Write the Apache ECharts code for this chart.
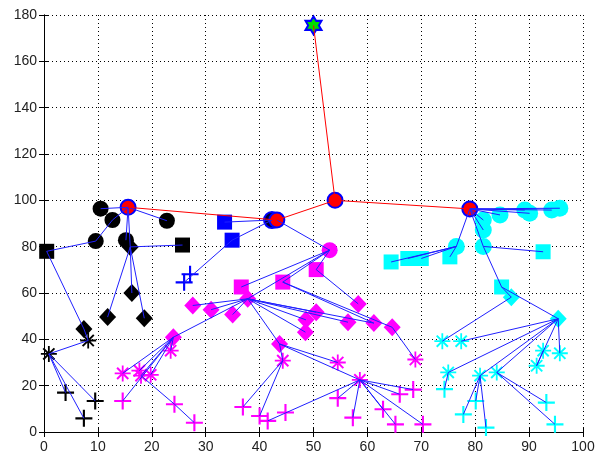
<!DOCTYPE html>
<html>
<head>
<meta charset="utf-8">
<script src="https://cdn.jsdelivr.net/npm/echarts@6/dist/echarts.min.js"></script>
<style>html,body{margin:0;padding:0;background:#fff}#c{width:604px;height:456px}</style>
</head>
<body>
<div id="c"></div>
<script>
// ---- data (x, y) ----
const xTicks = [0,10,20,30,40,50,60,70,80,90,100];
const yTicks = [0,20,40,60,80,100,120,140,160,180];

const rootNode = [[50,175.5]];
const levelOneNodes = [[15.6,97],[43.2,91.5],[54,100],[79,96.3]];
const blueHead = [[42.3,91.5]];

const blackCircles = [[10.5,96.4],[12.7,91.5],[22.8,91.2],[9.6,82.4],[15.2,82.8]];
const blackSquares = [[0.5,78],[25.7,80.7]];
const blackDiamonds = [[16,79.9],[16.3,60],[11.8,49.6],[18.6,49.1],[7.4,44.5]];
const blackStars = [[8.2,39.5],[0.9,33.7]];
const blackPlus = [[4,17],[9.5,13.4],[7.4,5.9]];

const blueSquares = [[33.5,90.6],[34.9,82.8]];
const bluePlus = [[26,64.6],[27.1,68.1]];

const magCircles = [[53,78.5]];
const magSquares = [[50.5,70.1],[44.3,64.7],[36.6,62.6]];
const magDiamonds = [[27.6,54.6],[31,52.8],[35,50.7],[37.8,57.5],[50.5,51.7],[48.6,48.4],[48.5,43.1],[58.3,55.3],[56.4,47.4],[61.2,47],[64.6,45.2],[43.7,38],[24,40.9]];
const magStars = [[23.5,35.1],[14.6,25.3],[17.7,26.5],[18,24.3],[19.8,24.7],[44.3,30.8],[54.5,30],[58.6,22.5],[68.9,31.3]];
const magPlus = [[14.6,13.4],[24.2,12],[27.9,4],[36.9,10.8],[40,6.9],[41.5,4.8],[44.8,8.4],[54.5,14.6],[57.3,6.2],[62.9,9.8],[65.2,3.3],[66,16.3],[68.5,18.3],[70.3,3.3]];

const cyanCircles = [[84.6,93.7],[81.5,91.5],[81.5,87.2],[89.2,95.8],[90.1,94.4],[94.2,95.8],[95.7,96.6],[81.5,80.1],[76.5,80.1]];
const cyanSquares = [[64.4,73.4],[67.5,74.9],[70,74.9],[75.3,75.6],[92.6,77.8],[84.9,62.6]];
const cyanDiamonds = [[86.7,58.2],[95.4,48.9]];
const cyanStars = [[73.9,39.2],[77.4,39.2],[75,25.7],[80.9,24.3],[84,25.7],[91.4,28.6],[92.6,35.1],[95.7,34]];
const cyanPlus = [[74.3,18.5],[80.1,13.4],[77.8,7.6],[82,1.9],[93.2,12.7],[94.8,3.3]];

// edges: [x1, y1, x2, y2]
const redEdges = [[50,175.5,54,100],[54,100,43.2,91.5],[43.2,91.5,15.6,97],[54,100,79,96.3]];
const blackEdges = [
  [15.6,97,10.5,96.4],[15.6,97,12.7,91.5],[15.6,97,22.8,91.2],[15.6,97,15.2,82.8],[15.6,97,16,79.9],
  [12.7,91.5,9.6,82.4],[9.6,82.4,0.5,78],[16,79.9,25.7,80.7],[16,79.9,16.3,60],[16,79.9,11.8,49.6],
  [16,79.9,18.6,49.1],[0.5,78,7.4,44.5],[7.4,44.5,8.2,39.5],[0.9,33.7,8.2,39.5],[0.9,33.7,4,17],
  [0.9,33.7,9.5,13.4],[0.9,33.7,7.4,5.9]
];
const blueEdges = [[42.3,91.5,33.5,90.6],[42.3,91.5,34.9,82.8],[34.9,82.8,26,64.6]];
const magEdges = [
  [43.2,91.5,53,78.5],[53,78.5,50.5,70.1],[53,78.5,44.3,64.7],[53,78.5,36.6,62.6],[53,78.5,37.8,57.5],
  [50.5,70.1,58.3,55.3],[64.6,45.2,68.9,31.3],[44.3,64.7,61.2,47],[44.3,64.7,64.6,45.2],
  [37.8,57.5,27.6,54.6],[37.8,57.5,31,52.8],[37.8,57.5,35,50.7],[37.8,57.5,50.5,51.7],[37.8,57.5,48.6,48.4],
  [37.8,57.5,48.5,43.1],[37.8,57.5,56.4,47.4],[37.8,57.5,61.2,47],[37.8,57.5,24,40.9],[37.8,57.5,43.7,38],
  [24,40.9,23.5,35.1],[24,40.9,14.6,25.3],[24,40.9,17.7,26.5],[24,40.9,18,24.3],[24,40.9,19.8,24.7],
  [24,40.9,14.6,13.4],[18,24.3,24.2,12],[24.2,12,27.9,4],[43.7,38,44.3,30.8],[43.7,38,54.5,30],
  [43.7,38,58.6,22.5],[44.3,30.8,36.9,10.8],[44.3,30.8,40,6.9],[58.6,22.5,41.5,4.8],[58.6,22.5,54.5,14.6],
  [58.6,22.5,57.3,6.2],[58.6,22.5,62.9,9.8],[58.6,22.5,65.2,3.3],[58.6,22.5,66,16.3],[58.6,22.5,68.5,18.3],
  [58.6,22.5,70.3,3.3]
];
const cyanEdges = [
  [79,96.3,84.6,93.7],[79,96.3,89.2,95.8],[79,96.3,94.2,95.8],[79,96.3,95.7,96.6],[79,96.3,90.1,94.4],
  [79,96.3,81.5,91.5],[79,96.3,81.5,87.2],[79,96.3,76.5,80.1],[79,96.3,81.5,80.1],[81.5,80.1,84.9,62.6],
  [84.9,62.6,95.4,48.9],[84.9,62.6,86.7,58.2],[86.7,58.2,73.9,39.2],[81.5,80.1,92.6,77.8],
  [76.5,80.1,64.4,73.4],[76.5,80.1,67.5,74.9],[76.5,80.1,70,74.9],[76.5,80.1,75.3,75.6],
  [95.4,48.9,77.4,39.2],[95.4,48.9,75,25.7],[95.4,48.9,80.9,24.3],[95.4,48.9,84,25.7],[95.4,48.9,91.4,28.6],
  [95.4,48.9,95.7,34],[92.6,35.1,91.4,28.6],[75,25.7,74.3,18.5],[80.9,24.3,80.1,13.4],[80.9,24.3,77.8,7.6],
  [80.9,24.3,82,1.9],[84,25.7,93.2,12.7],[84,25.7,94.8,3.3]
];

// ---- symbols ----
const PLUS = 'path://M-1,-8L1,-8L1,-1L8,-1L8,1L1,1L1,8L-1,8L-1,1L-8,1L-8,-1L-1,-1Z';
const STAR = 'path://M-0.9,-8L0.9,-8L0.9,-0.9L8,-0.9L8,0.9L0.9,0.9L0.9,8L-0.9,8L-0.9,0.9L-8,0.9L-8,-0.9L-0.9,-0.9Z' +
  'M-6.3,-4.9L-4.9,-6.3L6.3,4.9L4.9,6.3Z M4.9,-6.3L6.3,-4.9L-4.9,6.3L-6.3,4.9Z';
const HEX = 'path://M0,-100L28.87,-50L86.6,-50L57.7,0L86.6,50L28.87,50L0,100L-28.87,50L-86.6,50L-57.7,0L-86.6,-50L-28.87,-50Z';

function sc(data, symbol, size, color, extra) {
  return {
    type: 'scatter', data: data, symbol: symbol, symbolSize: size,
    itemStyle: Object.assign({color: color, opacity: 1}, extra || {}),
    silent: true, z: 2, animation: false
  };
}
function ln(edges, color, width, z) {
  return {
    type: 'lines', coordinateSystem: 'cartesian2d', z: z || 5, silent: true, animation: false,
    lineStyle: {color: color, width: width, opacity: 1},
    data: edges.map(e => ({coords: [[e[0], e[1]], [e[2], e[3]]]}))
  };
}

const BLUE = '#2020ff';
const MAG = '#ff00ff';
const CYAN = '#00ffff';

const chart = echarts.init(document.getElementById('c'), null, {renderer: 'canvas'});
const axisLab = {color: '#222', fontSize: 14, fontFamily: 'Liberation Sans, Arial, sans-serif'};
const grid = {type: [1, 3], color: '#000', width: 1};
chart.setOption({
  backgroundColor: '#fff',
  animation: false,
  grid: {left: 44, right: 21, top: 15, bottom: 24},
  xAxis: [
    {type: 'value', min: 0, max: 100, interval: 10, position: 'bottom',
     axisLine: {lineStyle: {color: '#000', width: 1}},
     axisTick: {inside: true, length: 5, lineStyle: {color: '#000'}},
     axisLabel: Object.assign({margin: 8}, axisLab),
     splitLine: {show: true, lineStyle: grid}},
    {type: 'value', min: 0, max: 100, interval: 10, position: 'top',
     axisLine: {show: true, lineStyle: {color: '#000', width: 1}},
     axisTick: {inside: true, length: 5, lineStyle: {color: '#000'}},
     axisLabel: {show: false}, splitLine: {show: false}}
  ],
  yAxis: [
    {type: 'value', min: 0, max: 180, interval: 20, position: 'left',
     axisLine: {show: true, lineStyle: {color: '#000', width: 1}},
     axisTick: {show: true, inside: true, length: 5, lineStyle: {color: '#000'}},
     axisLabel: Object.assign({margin: 7}, axisLab),
     splitLine: {show: true, lineStyle: grid}},
    {type: 'value', min: 0, max: 180, interval: 20, position: 'right',
     axisLine: {show: true, lineStyle: {color: '#000', width: 1}},
     axisTick: {show: true, inside: true, length: 5, lineStyle: {color: '#000'}},
     axisLabel: {show: false}, splitLine: {show: false}}
  ],
  series: [
    sc(blackCircles, 'circle', 16, '#000'),
    sc(blackSquares, 'rect', 15, '#000'),
    sc(blackDiamonds, 'diamond', [17, 18], '#000'),
    sc(blackStars, STAR, 16, '#000'),
    sc(blackPlus, PLUS, 17, '#000'),
    sc(blueSquares, 'rect', 15, '#0000ff'),
    sc(bluePlus, PLUS, 17, '#0000ff'),
    sc(magCircles, 'circle', 16, MAG),
    sc(magSquares, 'rect', 15, MAG),
    sc(magDiamonds, 'diamond', [17, 18], MAG),
    sc(magStars, STAR, 16, MAG),
    sc(magPlus, PLUS, 17, MAG),
    sc(cyanCircles, 'circle', 17, CYAN),
    sc(cyanSquares, 'rect', 15, CYAN),
    sc(cyanDiamonds, 'diamond', [17, 18], CYAN),
    sc(cyanStars, STAR, 16, CYAN),
    sc(cyanPlus, PLUS, 17, CYAN),
    sc(blueHead, 'circle', 16, '#000030', {borderColor: '#0000ff', borderWidth: 2}),
    sc(levelOneNodes, 'circle', 15, '#ff0000', {borderColor: '#0000ff', borderWidth: 2}),
    ln(blackEdges, BLUE, 1),
    ln(blueEdges, BLUE, 1),
    ln(magEdges, BLUE, 1),
    ln(cyanEdges, BLUE, 1),
    ln(redEdges, '#ff0000', 1, 6),
    Object.assign(sc(rootNode, HEX, [16, 18], '#00dd00', {borderColor: '#0000ff', borderWidth: 2}), {z: 4})
  ]
});
</script>
</body>
</html>
